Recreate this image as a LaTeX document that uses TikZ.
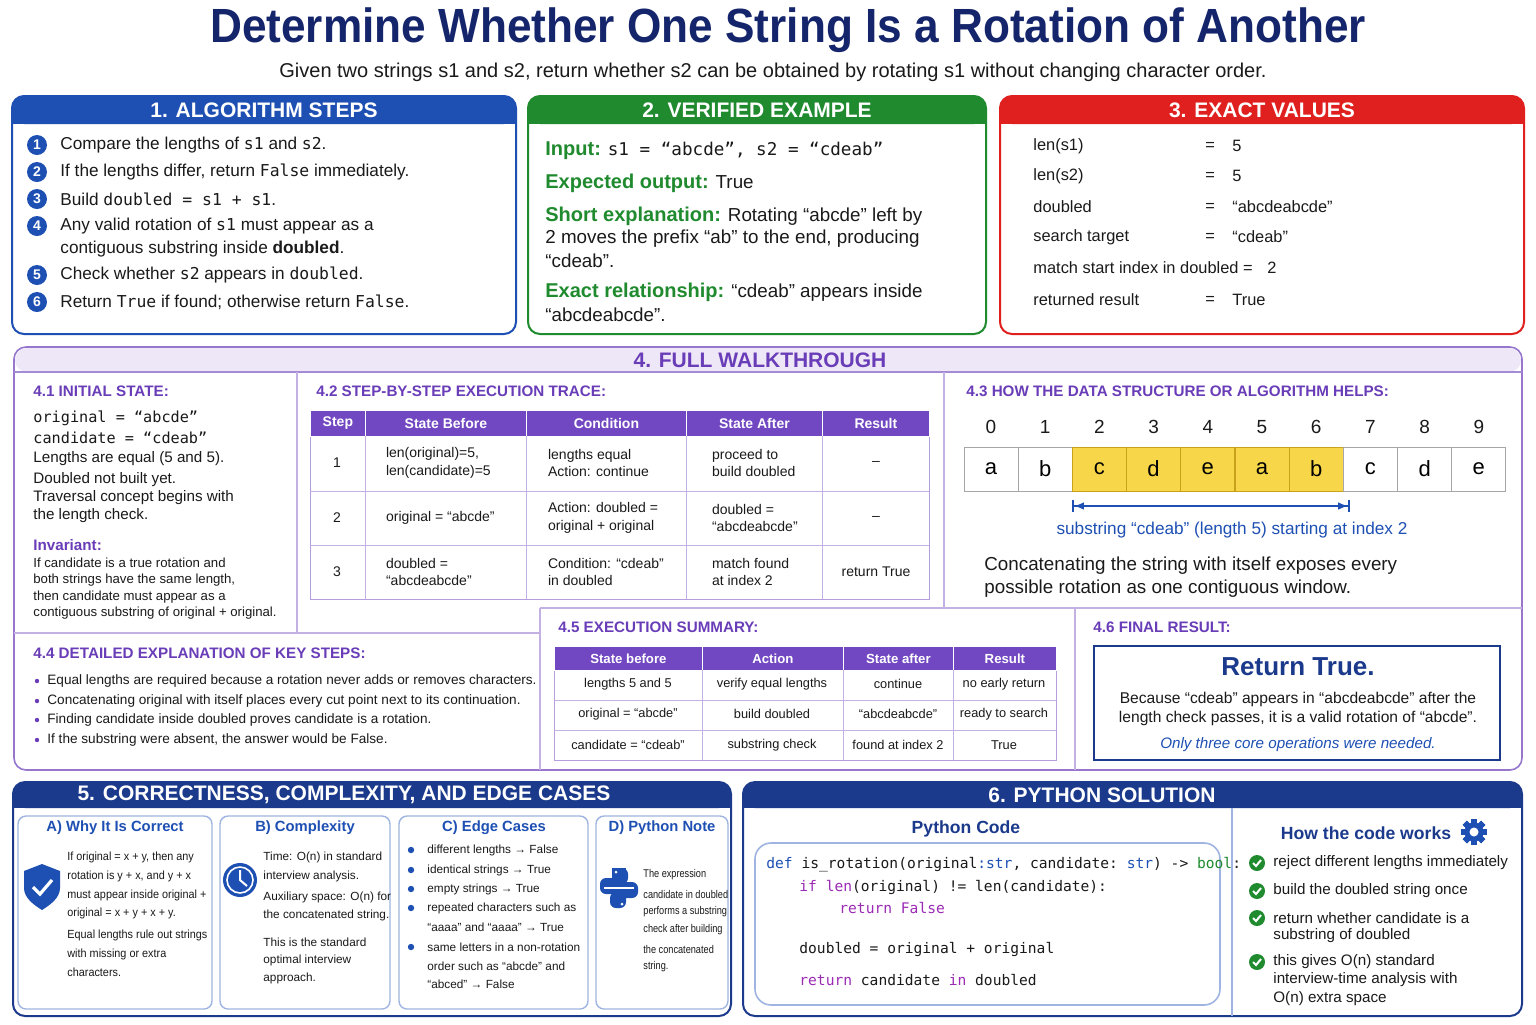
\documentclass[tikz,border=0pt]{standalone}
\usepackage{fontspec}
\setmainfont{Liberation Sans}
\setmonofont{DejaVu Sans Mono}
\usetikzlibrary{arrows.meta}
\definecolor{navy}{HTML}{1B3A8C}
\definecolor{tnavy}{HTML}{15256B}
\definecolor{bblue}{HTML}{1E50B4}
\definecolor{ggreen}{HTML}{1F8A2E}
\definecolor{rred}{HTML}{E0201E}
\definecolor{purp}{HTML}{6A3DB8}
\definecolor{lpurp}{HTML}{EEE7F8}
\definecolor{thd}{HTML}{7248C2}
\definecolor{yel}{HTML}{F8D64A}
\definecolor{gold}{HTML}{C9A21C}
\definecolor{kw}{HTML}{9B2BB5}
\definecolor{ink}{HTML}{1A1A1A}
\definecolor{lblue}{HTML}{9FB4E0}
\newcommand\mt[1]{{\ttfamily\fontsize{8.2}{9}\selectfont #1}}
\newcommand\sx[2]{\scalebox{#1}[1]{#2}}
\tikzset{x=0.5pt,y=-0.5pt,
 panel/.style={draw=#1,line width=1pt,rounded corners=6pt,fill=white},
 hdr/.style={fill=#1,rounded corners=6pt},
 htxt/.style={text=white,font=\bfseries\fontsize{10.5}{12}\selectfont},
 txt/.style={anchor=west,inner sep=0,text=ink,font=\fontsize{8.6}{10}\selectfont},
 stxt/.style={anchor=west,inner sep=0,text=ink,font=\fontsize{6.6}{8}\selectfont},
 xtxt/.style={anchor=west,inner sep=0,text=ink,font=\fontsize{5.9}{7}\selectfont},
 sub/.style={anchor=west,inner sep=0,text=purp,font=\bfseries\fontsize{7.6}{9}\selectfont},
 num/.style={circle,fill=bblue,text=white,inner sep=0,minimum size=10pt,font=\bfseries\fontsize{7}{8}\selectfont},
 cell/.style={draw=gray!70,minimum width=27pt,minimum height=22pt,font=\fontsize{11}{12}\selectfont,inner sep=0},
 th/.style={fill=thd,draw=white,text=white,font=\bfseries\fontsize{7}{8}\selectfont},
 tc/.style={font=\fontsize{7}{8.8}\selectfont,align=left,text=ink},
 sc/.style={font=\fontsize{6.4}{8}\selectfont,text=ink},
 chk/.style={circle,fill=ggreen,inner sep=0,minimum size=8pt},
}
\begin{document}
\begin{tikzpicture}
\useasboundingbox[fill=white] (0,0) rectangle (1536,1024);
% title
\node[text=tnavy,font=\bfseries\fontsize{24}{26}\selectfont] (title) at (788,30) {\sx{0.92}{Determine Whether One String Is a Rotation of Another}};
\node[text=ink,font=\fontsize{10}{12}\selectfont] (subt) at (773,72) {Given two strings s1 and s2, return whether s2 can be obtained by rotating s1 without changing character order.};

% ---- panel 1
\draw[panel=bblue] (12,96) rectangle (516,334);
\fill[hdr=bblue] (12,96) rectangle (516,124);
\fill[bblue] (12,112) rectangle (516,124);
\node[htxt] (h1) at (264,110) {1. ALGORITHM STEPS};
\foreach \n/\y in {1/145,2/172,3/199,4/226,5/275,6/302}{\node[num] (n\n) at (37,\y) {\n};}
\node[txt] (s1) at (60,145) {Compare the lengths of \mt{s1} and \mt{s2}.};
\node[txt] (s2) at (60,172) {If the lengths differ, return \mt{False} immediately.};
\node[txt] (s3) at (60,199) {Build \mt{doubled = s1 + s1}.};
\node[txt] (s4) at (60,226) {Any valid rotation of \mt{s1} must appear as a};
\node[txt] (s4b) at (60,249) {contiguous substring inside \textbf{doubled}.};
\node[txt] (s5) at (60,275) {Check whether \mt{s2} appears in \mt{doubled}.};
\node[txt] (s6) at (60,302) {Return \mt{True} if found; otherwise return \mt{False}.};

% ---- panel 2
\draw[panel=ggreen] (528,96) rectangle (986,334);
\fill[hdr=ggreen] (528,96) rectangle (986,124);
\fill[ggreen] (528,112) rectangle (986,124);
\node[htxt] (h2) at (757,110) {2. VERIFIED EXAMPLE};
\tikzset{gh/.style={text=ggreen,font=\bfseries\fontsize{10}{12}\selectfont}}
\node[txt,font=\fontsize{9.4}{11}\selectfont] (e1) at (545,151) {\textcolor{ggreen}{\bfseries\fontsize{10}{12}\selectfont Input:} {\ttfamily\fontsize{8.8}{10}\selectfont s1 = “abcde”, s2 = “cdeab”}};
\node[txt,font=\fontsize{9.4}{11}\selectfont] (e2) at (545,183) {\textcolor{ggreen}{\bfseries\fontsize{10}{12}\selectfont Expected output:} True};
\node[txt,font=\fontsize{9.4}{11}\selectfont] (e3) at (545,216) {\textcolor{ggreen}{\bfseries\fontsize{10}{12}\selectfont Short explanation:} Rotating “abcde” left by};
\node[txt,font=\fontsize{9.4}{11}\selectfont] (e4) at (545,239) {2 moves the prefix “ab” to the end, producing};
\node[txt,font=\fontsize{9.4}{11}\selectfont] (e5) at (545,261) {“cdeab”.};
\node[txt,font=\fontsize{9.4}{11}\selectfont] (e6) at (545,292) {\textcolor{ggreen}{\bfseries\fontsize{10}{12}\selectfont Exact relationship:} “cdeab” appears inside};
\node[txt,font=\fontsize{9.4}{11}\selectfont] (e7) at (545,315) {“abcdeabcde”.};

% ---- panel 3
\draw[panel=rred] (1000,96) rectangle (1524,334);
\fill[hdr=rred] (1000,96) rectangle (1524,124);
\fill[rred] (1000,112) rectangle (1524,124);
\node[htxt] (h3) at (1262,110) {3. EXACT VALUES};
\foreach \i/\y/\a/\b in {1/146/len(s1)/5,2/176/len(s2)/5,3/207/doubled/“abcdeabcde”,4/237/search target/“cdeab”,6/300/returned result/True}{
 \node[txt,font=\fontsize{8.2}{10}\selectfont] (v\i a) at (1033,\y) {\a};
 \node[txt,font=\fontsize{8.2}{10}\selectfont] (v\i e) at (1205,\y) {=};
 \node[txt,font=\fontsize{8.2}{10}\selectfont] (v\i b) at (1232,\y) {\b};}
\node[txt,font=\fontsize{8.2}{10}\selectfont] (v5a) at (1033,268) {match start index in doubled =};
\node[txt,font=\fontsize{8.2}{10}\selectfont] (v5b) at (1267,268) {2};

% ---- panel 4
\draw[draw=purp!70,line width=0.8pt,rounded corners=6pt] (14,347) rectangle (1522,770);
\fill[lpurp,rounded corners=6pt] (15,348) rectangle (1521,372);
\draw[purp!60,line width=0.6pt] (14,372) -- (1522,372);
\node[text=purp,font=\bfseries\fontsize{10.5}{12}\selectfont] (h4) at (760,360) {4. FULL WALKTHROUGH};
\draw[purp!40,line width=0.6pt] (297,372) -- (297,633) (944,372) -- (944,608) (14,633) -- (540,633) (540,608) -- (540,770) (540,608) -- (1522,608) (1075,608) -- (1075,770);
% 4.1
\node[sub] (t41) at (33,391) {4.1 INITIAL STATE:};
\node[txt,font=\ttfamily\fontsize{7.6}{9}\selectfont] (i1) at (33,418) {original = “abcde”};
\node[txt,font=\ttfamily\fontsize{7.6}{9}\selectfont] (i2) at (33,438) {candidate = “cdeab”};
\node[txt,font=\fontsize{7.6}{9}\selectfont] (i3) at (33,459) {Lengths are equal (5 and 5).};
\node[txt,font=\fontsize{7.6}{9}\selectfont] (i4) at (33,480) {Doubled not built yet.};
\node[txt,font=\fontsize{7.6}{9}\selectfont] (i5) at (33,498) {Traversal concept begins with};
\node[txt,font=\fontsize{7.6}{9}\selectfont] (i6) at (33,516) {the length check.};
\node[sub] (inv) at (33,545) {Invariant:};
\node[stxt] (j1) at (33,563) {If candidate is a true rotation and};
\node[stxt] (j2) at (33,580) {both strings have the same length,};
\node[stxt] (j3) at (33,597) {then candidate must appear as a};
\node[stxt] (j4) at (33,613) {contiguous substring of original + original.};
% 4.2
\node[sub] (t42) at (316,391) {4.2 STEP-BY-STEP EXECUTION TRACE:};
\draw[purp!50] (310,410) rectangle (929,599);
\foreach \a/\b/\t in {310/365/Step,365/526/State Before,526/686/Condition / Action,686/822/State After,822/929/Result}{
 \node[th,minimum width={(\b-\a)*0.5pt},minimum height=13pt,anchor=north west] (th\a) at (\a,410) {\t};}
\foreach \y in {491,545} \draw[purp!40] (310,\y) -- (929,\y);
\foreach \x in {365,526,686,822} \draw[purp!40] (\x,436) -- (\x,599);
\foreach \r/\y/\a/\b/\c/\d in {1/463/{len(original)=5,\\len(candidate)=5}/{lengths equal\\Action: continue}/{proceed to\\build doubled}/{--},
 2/518/{original = “abcde”}/{Action: doubled =\\original + original}/{doubled =\\“abcdeabcde”}/{--},
 3/572/{doubled =\\“abcdeabcde”}/{Condition: “cdeab”\\in doubled}/{match found\\at index 2}/{return True}}{
 \node[tc] (r\r s) at (337,\y) {\r};
 \node[tc,anchor=west] (r\r a) at (379,\y) {\a};
 \node[tc,anchor=west] (r\r b) at (541,\y) {\b};
 \node[tc,anchor=west] (r\r c) at (705,\y) {\c};
 \node[tc] (r\r d) at (876,\y) {\d};}
% 4.3
\node[sub] (t43) at (966,391) {4.3 HOW THE DATA STRUCTURE OR ALGORITHM HELPS:};
\foreach \i/\ch in {0/a,1/b,2/c,3/d,4/e,5/a,6/b,7/c,8/d,9/e}{
 \pgfmathsetmacro\cx{991+\i*54.2}
 \node[font=\fontsize{9.5}{11}\selectfont,text=ink] (ix\i) at (\cx,427) {\i};
 \ifnum\i>1\ifnum\i<7 \node[cell,fill=yel,draw=gold] (c\i) at (\cx,469) {\ch};\else\node[cell] (c\i) at (\cx,469) {\ch};\fi\else\node[cell] (c\i) at (\cx,469) {\ch};\fi}
\coordinate (al) at (1072,506); \coordinate (ar) at (1350,506);
\draw[bblue,line width=0.9pt,{Bar[width=6pt]Latex[length=5pt]}-{Latex[length=5pt]Bar[width=6pt]}] (al) -- (ar);
\node[text=bblue,font=\fontsize{8.6}{10}\selectfont] (subl) at (1232,530) {substring “cdeab” (length 5) starting at index 2};
\node[txt,font=\fontsize{9.4}{11}\selectfont] (cc1) at (984,566) {Concatenating the string with itself exposes every};
\node[txt,font=\fontsize{9.4}{11}\selectfont] (cc2) at (984,589) {possible rotation as one contiguous window.};
% 4.4
\node[sub] (t44) at (33,653) {4.4 DETAILED EXPLANATION OF KEY STEPS:};
\foreach \i/\y/\t in {1/681/{Equal lengths are required because a rotation never adds or removes characters.},2/701/{Concatenating original with itself places every cut point next to its continuation.},3/720/{Finding candidate inside doubled proves candidate is a rotation.},4/740/{If the substring were absent, the answer would be False.}}{
 \fill[purp] (37,\y) circle (2.2);
 \node[stxt,font=\fontsize{6.8}{8}\selectfont] (b\i) at (47,\y) {\t};}
% 4.5
\node[sub] (t45) at (558,627) {4.5 EXECUTION SUMMARY:};
\draw[purp!50] (554,646) rectangle (1056,760);
\foreach \a/\b/\t in {554/702/State before,702/843/Action,843/953/State after,953/1056/Result}{
 \node[th,font=\bfseries\fontsize{6.6}{8}\selectfont,minimum width={(\b-\a)*0.5pt},minimum height=12pt,anchor=north west] (sh\a) at (\a,646) {\t};}
\foreach \y in {700,730} \draw[purp!40] (554,\y) -- (1056,\y);
\foreach \x in {702,843,953} \draw[purp!40] (\x,670) -- (\x,760);
\foreach \r/\y/\a/\b/\c/\d in {1/684/lengths 5 and 5/verify equal lengths/continue/no early return,2/714/original = “abcde”/build doubled/“abcdeabcde”/ready to search,3/745/candidate = “cdeab”/substring check/found at index 2/True}{
 \node[sc] (q\r a) at (628,\y) {\a}; \node[sc] (q\r b) at (772,\y) {\b};
 \node[sc] (q\r c) at (898,\y) {\c}; \node[sc] (q\r d) at (1004,\y) {\d};}
% 4.6
\node[sub] (t46) at (1093,627) {4.6 FINAL RESULT:};
\draw[navy,line width=0.9pt] (1094,646) rectangle (1500,760);
\node[text=navy,font=\bfseries\fontsize{13}{15}\selectfont] (rt) at (1298,667) {Return True.};
\node[font=\fontsize{7.8}{9.5}\selectfont,text=ink,align=center] (rx) at (1298,709) {Because “cdeab” appears in “abcdeabcde” after the\\length check passes, it is a valid rotation of “abcde”.};
\node[font=\itshape\fontsize{7.6}{9}\selectfont,text=bblue] (ry) at (1298,745) {Only three core operations were needed.};

% ---- panel 5
\draw[panel=navy] (13,782) rectangle (731,1016);
\fill[hdr=navy] (13,782) rectangle (731,808);
\fill[navy] (13,798) rectangle (731,808);
\node[htxt] (h5) at (344,795) {5. CORRECTNESS, COMPLEXITY, AND EDGE CASES};
\foreach \a/\b/\t/\m in {18/212/A) Why It Is Correct/115,220/390/B) Complexity/305,399/588/C) Edge Cases/494,596/728/D) Python Note/662}{
 \draw[lblue,line width=0.7pt,rounded corners=4pt] (\a,816) rectangle (\b,1009);
 \node[text=bblue,font=\bfseries\fontsize{7.4}{9}\selectfont] (st\a) at (\m,828) {\t};}
% shield
\fill[bblue] (42,864) -- (60,871) -- (60,888) .. controls (60,898) and (50,905) .. (42,910) .. controls (34,905) and (24,898) .. (24,888) -- (24,871) -- cycle;
\draw[white,line width=1.6pt] (33,887) -- (40,894) -- (52,880);
\foreach \i/\y/\t in {1/857/{If original = x + y, then any},2/876/{rotation is y + x, and y + x},3/895/{must appear inside original +},4/913/{original = x + y + x + y.},5/935/{Equal lengths rule out strings},6/954/{with missing or extra},7/972/{characters.}}{\node[xtxt] (wa\i) at (67,\y) {\sx{0.92}{\t}};}
% clock
\fill[bblue] (240,880) circle (17);
\draw[white,line width=0.8pt] (240,880) circle (13);
\draw[white,line width=1pt] (240,870) -- (240,880) -- (247,886);
\foreach \i/\y/\t in {1/857/{Time: O(n) in standard},2/876/{interview analysis.},3/897/{Auxiliary space: O(n) for},4/915/{the concatenated string.},5/942/{This is the standard},6/960/{optimal interview},7/978/{approach.}}{\node[xtxt] (wb\i) at (263,\y) {\t};}
% edge cases
\foreach \i/\y/\t/\d in {1/850/{different lengths → False}/1,2/870/{identical strings → True}/1,3/889/{empty strings → True}/1,4/908/{repeated characters such as}/1,5/927/{“aaaa” and “aaaa” → True}/0,6/947/{same letters in a non-rotation}/1,7/966/{order such as “abcde” and}/0,8/984/{“abced” → False}/0}{
 \ifnum\d=1 \fill[bblue] (411,\y) circle (3.2);\fi
 \node[xtxt,font=\fontsize{5.9}{7}\selectfont\addfontfeature{Mapping=tex-text}] (wc\i) at (427,\y) {\t};}
% python logo
\fill[bblue] (612,868) rectangle (626,896);
\fill[bblue,rounded corners=3pt] (600,878) rectangle (626,894);
\fill[bblue,rounded corners=3pt] (612,882) rectangle (638,898);
\fill[bblue,rounded corners=3pt] (612,868) rectangle (628,884);
\fill[bblue,rounded corners=3pt] (610,892) rectangle (626,908);
\fill[white] (616,872) circle (1.5) (622,904) circle (1.5);
\draw[white,line width=1pt] (604,888) -- (634,888);
\foreach \i/\y/\t in {1/875/{The expression},2/894/{candidate in doubled},3/912/{performs a substring},4/930/{check after building},5/949/{the concatenated},6/967/{string.}}{\node[xtxt,font=\fontsize{5.6}{7}\selectfont] (wd\i) at (643,\y) {\sx{0.82}{\t}};}

% ---- panel 6
\draw[panel=navy] (743,782) rectangle (1522,1016);
\fill[hdr=navy] (743,782) rectangle (1522,808);
\fill[navy] (743,798) rectangle (1522,808);
\node[htxt] (h6) at (1102,795) {6. PYTHON SOLUTION};
\draw[lblue,line width=0.6pt] (1232,808) -- (1232,1016);
\node[text=navy,font=\bfseries\fontsize{8.8}{10}\selectfont] (pc) at (966,829) {Python Code};
\draw[lblue,line width=0.8pt,rounded corners=8pt] (755,843) rectangle (1220,1005);
\tikzset{cd/.style={anchor=west,inner sep=0,text=ink,font=\ttfamily\fontsize{7.3}{9}\selectfont}}
\node[cd] (k1) at (766,865) {\textcolor{bblue}{def} is\_rotation(original\textcolor{bblue}{:str}, candidate: \textcolor{bblue}{str}) -> \textcolor{ggreen}{bool}:};
\node[cd] (k2) at (799,887) {\textcolor{kw}{if len}(original) != len(candidate):};
\node[cd] (k3) at (839,908) {\textcolor{kw}{return False}};
\node[cd] (k4) at (799,949) {doubled = original + original};
\node[cd] (k5) at (799,980) {\textcolor{kw}{return} candidate \textcolor{kw}{in} doubled};
\node[text=navy,font=\bfseries\fontsize{8.8}{10}\selectfont] (hw) at (1366,833) {How the code works};
% gear
\fill[bblue] (1474,832) circle (9.5);
\foreach \a in {0,45,...,315} \fill[bblue,rotate around={\a:(1474,832)}] (1471,819) rectangle (1477,845);
\fill[white] (1474,832) circle (4.5);
\foreach \i/\y/\t in {1/863/{reject different lengths immediately},2/891/{build the doubled string once},3/918/{return whether candidate is a},4/962/{this gives O(n) standard}}{
 \node[chk] (ck\i) at (1257,\y) {};
 \draw[white,line width=1pt] (1253,\y) -- (1256,\y+3) -- (1261,\y-3);
 \node[txt,font=\fontsize{7.6}{9}\selectfont] (hw\i) at (1273,\y) {\t};}
\node[txt,font=\fontsize{7.6}{9}\selectfont] (hw5) at (1273,936) {substring of doubled};
\node[txt,font=\fontsize{7.6}{9}\selectfont] (hw6) at (1273,980) {interview-time analysis with};
\node[txt,font=\fontsize{7.6}{9}\selectfont] (hw7) at (1273,999) {O(n) extra space};
\end{tikzpicture}
\end{document}
